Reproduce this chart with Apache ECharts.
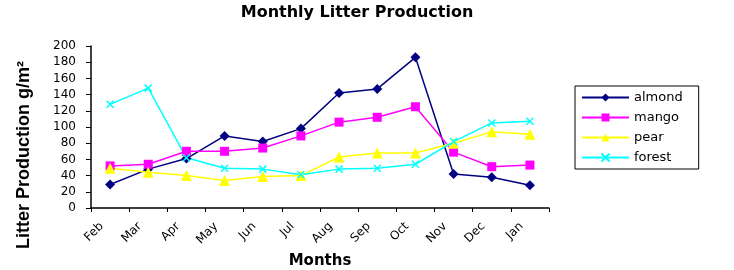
<!DOCTYPE html>
<html><head><meta charset="utf-8">
<script src="https://cdn.jsdelivr.net/npm/echarts@6/dist/echarts.min.js"></script>
<style>html,body{margin:0;padding:0;background:#fff}#c{width:734px;height:270px}</style>
</head><body><div id="c"></div>
<script>
const months = ['Feb','Mar','Apr','May','Jun','Jul','Aug','Sep','Oct','Nov','Dec','Jan'];
const almond = [29, 48, 61, 89, 82, 98, 142, 147, 186, 42, 38, 28];
const mango  = [52, 54, 70, 70, 74, 89, 106, 112, 125, 69, 51, 53];
const pear   = [49, 44, 40, 34, 39, 40, 63, 68, 68, 80, 94, 91];
const forest = [128, 148, 62, 49, 48, 41, 48, 49, 54, 82, 105, 107];
const yTicks = [0, 20, 40, 60, 80, 100, 120, 140, 160, 180, 200];

const F = 'DejaVu Sans, sans-serif';
const FA = 'Liberation Sans, Arial, sans-serif';
function mk(name, data, color, symbol, size, extra) {
  return Object.assign({
    name, type: 'line', data, symbol, symbolSize: size,
    lineStyle: { color, width: 1.5 },
    itemStyle: { color },
    emphasis: { disabled: true },
    animation: false
  }, extra || {});
}
const chart = echarts.init(document.getElementById('c'), null, { renderer: 'canvas' });
chart.setOption({
  animation: false,
  title: { text: 'Monthly Litter Production', left: 352, textAlign: 'center', top: 0,
    textStyle: { fontFamily: F, fontSize: 16, fontWeight: 'bold', color: '#000' } },
  legend: {
    orient: 'vertical', left: 575, top: 86,
    itemWidth: 47, itemHeight: 10, itemGap: 7,
    padding: [5, 16, 5, 6],
    borderColor: '#000', borderWidth: 1,
    textStyle: { fontFamily: F, fontSize: 13, color: '#000' },
    data: ['almond', 'mango', 'pear', 'forest']
  },
  grid: { left: 91, right: 185, top: 46, bottom: 62, containLabel: false, outerBoundsMode: 'none' },
  xAxis: {
    type: 'category', data: months, boundaryGap: true,
    name: 'Months', nameLocation: 'middle', nameGap: 41,
    nameTextStyle: { fontFamily: F, fontSize: 15, fontWeight: 'bold', color: '#000' },
    axisLine: { lineStyle: { color: '#000', width: 1.5 } },
    axisTick: { show: true, alignWithLabel: false, length: 4, lineStyle: { color: '#000' } },
    axisLabel: { rotate: 45, fontFamily: F, fontSize: 12, color: '#000', margin: 8, interval: 0,
      padding: [0, 12, 0, 0] },
    splitLine: { show: false }
  },
  yAxis: {
    type: 'value', min: yTicks[0], max: yTicks[yTicks.length - 1], interval: 20,
    name: 'Litter Production g/m²', nameLocation: 'middle', nameGap: 58,
    nameTextStyle: { fontFamily: FA, fontSize: 18, fontWeight: 'bold', color: '#000',
      padding: [0, 56, 0, 0] },
    axisLine: { show: true, lineStyle: { color: '#000', width: 1.5 } },
    axisTick: { show: true, length: 5, lineStyle: { color: '#000' } },
    axisLabel: { fontFamily: F, fontSize: 12, color: '#000', margin: 15 },
    splitLine: { show: false }
  },
  series: [
    mk('almond', almond, '#000080', 'diamond', 10),
    mk('mango', mango, '#FF00FF', 'rect', 9),
    mk('pear', pear, '#FFFF00', 'triangle', 11),
    mk('forest', forest, '#00FFFF', 'path://M0,0L10,10M10,0L0,10', 7,
      { itemStyle: { color: 'none', borderColor: '#00FFFF', borderWidth: 1.5 } })
  ]
});
</script></body></html>
